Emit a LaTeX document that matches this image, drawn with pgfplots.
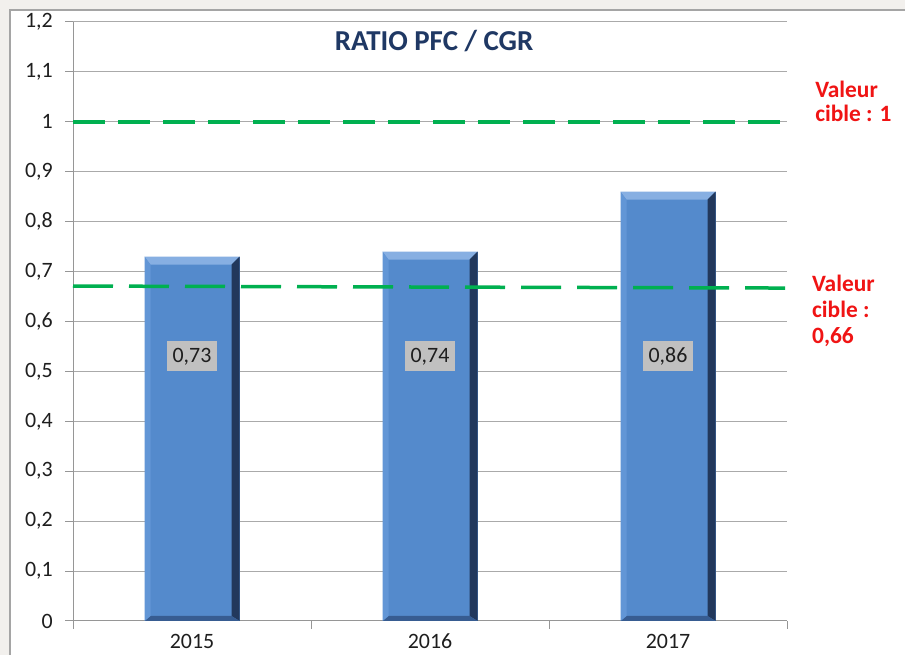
\documentclass[border=0pt]{standalone}
\usepackage{fontspec}
\setmainfont{Carlito}
\usepackage{pgfplots}
\pgfplotsset{compat=1.18}
\definecolor{bgout}{RGB}{242,240,237}
\definecolor{framec}{RGB}{165,165,165}
\definecolor{gridc}{RGB}{170,170,170}
\definecolor{axc}{RGB}{150,150,150}
\definecolor{barbody}{RGB}{84,138,204}
\definecolor{bardark}{RGB}{34,56,92}
\definecolor{barlight}{RGB}{135,175,226}
\definecolor{barleft}{RGB}{98,150,214}
\definecolor{barbottom}{RGB}{55,92,145}
\definecolor{tgreen}{RGB}{0,176,80}
\definecolor{tred}{RGB}{240,20,20}
\definecolor{tnavy}{RGB}{31,56,100}
\definecolor{lblgray}{RGB}{192,192,192}
\definecolor{ticktext}{RGB}{30,30,30}
\newcommand\PPA[1]{\pgfpointanchor{path picture bounding box}{#1}}
\newcommand\PPO[3]{\pgfpointadd{\pgfpointanchor{path picture bounding box}{#1}}{\pgfpoint{#2}{#3}}}
\newcommand\bevelpic{%
  \pgfsetfillcolor{barlight}%
  \pgfpathmoveto{\PPA{north west}}\pgfpathlineto{\PPA{north east}}%
  \pgfpathlineto{\PPO{north east}{-8bp}{-8bp}}\pgfpathlineto{\PPO{north west}{6bp}{-8bp}}%
  \pgfpathclose\pgfusepath{fill}%
  \pgfsetfillcolor{bardark}%
  \pgfpathmoveto{\PPA{north east}}\pgfpathlineto{\PPA{south east}}%
  \pgfpathlineto{\PPO{south east}{-8bp}{5bp}}\pgfpathlineto{\PPO{north east}{-8bp}{-8bp}}%
  \pgfpathclose\pgfusepath{fill}%
  \pgfsetfillcolor{barbottom}%
  \pgfpathmoveto{\PPA{south west}}\pgfpathlineto{\PPA{south east}}%
  \pgfpathlineto{\PPO{south east}{-8bp}{5bp}}\pgfpathlineto{\PPO{south west}{6bp}{5bp}}%
  \pgfpathclose\pgfusepath{fill}%
  \pgfsetfillcolor{barleft}%
  \pgfpathmoveto{\PPA{north west}}\pgfpathlineto{\PPA{south west}}%
  \pgfpathlineto{\PPO{south west}{6bp}{5bp}}\pgfpathlineto{\PPO{north west}{6bp}{-8bp}}%
  \pgfpathclose\pgfusepath{fill}%
}
\pgfplotsset{bevelbar/.style={ybar, bar width=95bp, bar shift=0pt, fill=barbody, draw=none, path picture={\bevelpic}}}
\begin{document}
\begin{tikzpicture}
\useasboundingbox (0bp,0bp) rectangle (905bp,655bp);
\fill[bgout] (0bp,0bp) rectangle (905bp,655bp);
\fill[white] (10bp,-10bp) rectangle (920bp,645bp);
\draw[framec, line width=1.5bp] (10bp,-10bp) rectangle (920bp,645bp);
\begin{axis}[
  at={(73bp,34bp)}, anchor=south west, scale only axis,
  width=714bp, height=599bp,
  xmin=-0.5, xmax=2.5, ymin=0, ymax=1.2,
  clip=false,
  axis x line=bottom, axis y line=left,
  axis line style={draw=axc, line width=1bp, -},
  tick align=outside,
  major tick length=8bp, minor tick length=8bp,
  xtick={0,1,2}, xticklabels={2015,2016,2017},
  minor xtick={-0.5,0.5,1.5,2.5},
  major x tick style={draw=none},
  minor x tick style={draw=axc, line width=1bp},
  ytick={0,0.1,0.2,0.3,0.4,0.5,0.6,0.7,0.8,0.9,1,1.1,1.2},
  yticklabels={0,{0,1},{0,2},{0,3},{0,4},{0,5},{0,6},{0,7},{0,8},{0,9},1,{1,1},{1,2}},
  ytick style={draw=axc, line width=1bp},
  ymajorgrids=true,
  major grid style={draw=gridc, line width=1bp},
  ticklabel style={font=\fontsize{22}{26}\selectfont, text=ticktext},
  yticklabel style={anchor=east, inner sep=0pt, xshift=-12bp},
  xticklabel style={anchor=north, inner sep=0pt, yshift=-5bp},
  /pgf/number format/assume math mode=true,
]
\addplot[bevelbar] coordinates {(0,0.73)};
\addplot[bevelbar] coordinates {(1,0.74)};
\addplot[bevelbar] coordinates {(2,0.86)};
% target lines
\addplot[tgreen, line width=3.5bp, dash pattern=on 32bp off 13bp] coordinates {(-0.5,1.0) (2.5,1.0)};
\addplot[tgreen, line width=3.5bp, dash pattern=on 40bp off 16bp] coordinates {(-0.5,0.671) (2.5,0.667)};
% value labels
\addplot[draw=none, mark=none, point meta=explicit,
  nodes near coords={\pgfmathprintnumber[use comma,fixed,fixed zerofill,precision=2]{\pgfplotspointmeta}},
  nodes near coords align={center},
  every node near coord/.append style={fill=lblgray, text=ticktext, inner sep=0pt,
     minimum width=50bp, minimum height=30bp, font=\fontsize{22}{26}\selectfont, anchor=center}]
  coordinates {(0,0.530) [0.73] (1,0.530) [0.74] (2,0.530) [0.86]};
% title
\node[anchor=base, font=\bfseries\fontsize{29}{32}\selectfont, text=tnavy, inner sep=0pt] at (axis cs:1.017,1.142) {RATIO PFC / CGR};
% annotations
\node[anchor=base west, font=\bfseries\fontsize{23.5}{26}\selectfont, text=tred, inner sep=0pt] at (axis cs:2.618,1.0497) {Valeur};
\node[anchor=base west, font=\bfseries\fontsize{23.5}{26}\selectfont, text=tred, inner sep=0pt] at (axis cs:2.618,0.9997) {cible : 1};
\node[anchor=base west, font=\bfseries\fontsize{23.5}{26}\selectfont, text=tred, inner sep=0pt] at (axis cs:2.605,0.6591) {Valeur};
\node[anchor=base west, font=\bfseries\fontsize{23.5}{26}\selectfont, text=tred, inner sep=0pt] at (axis cs:2.605,0.6090) {cible :};
\node[anchor=base west, font=\bfseries\fontsize{23.5}{26}\selectfont, text=tred, inner sep=0pt] at (axis cs:2.605,0.5569) {0,66};
\end{axis}
\end{tikzpicture}
\end{document}
